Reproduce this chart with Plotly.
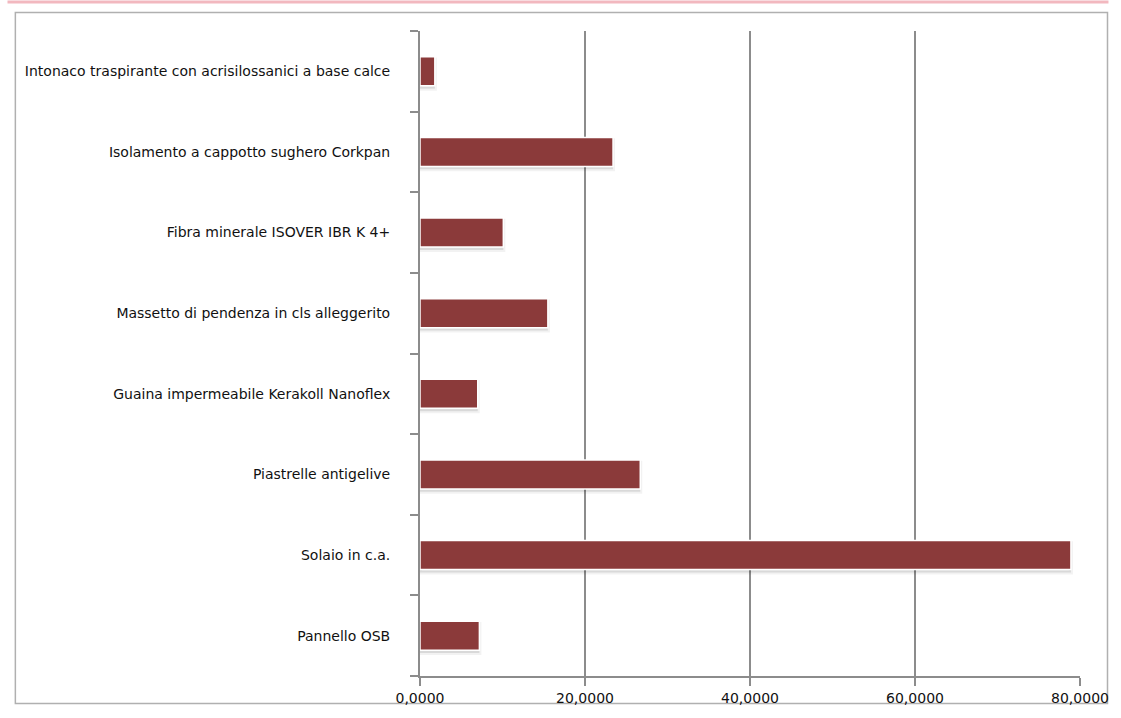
import plotly.graph_objects as go

categories = [
    "Pannello OSB",
    "Solaio in c.a.",
    "Piastrelle antigelive",
    "Guaina impermeabile Kerakoll Nanoflex",
    "Massetto di pendenza in cls alleggerito",
    "Fibra minerale ISOVER IBR K 4+",
    "Isolamento a cappotto sughero Corkpan",
    "Intonaco traspirante con acrisilossanici a base calce",
]
values = [7.2, 78.9, 26.7, 7.0, 15.5, 10.1, 23.4, 1.8]
x_ticks = [0, 20, 40, 60, 80]

W, H = 1121, 718
L, R, T, B = 420, 29, 31, 29
pw, ph = W - L - R, H - T - B

def px_x(p):
    return (p - L) / pw

def px_y(p):
    return 1 - (p - T) / ph

BW = 0.36
fig = go.Figure()
# soft drop shadow
fig.add_trace(go.Bar(
    y=categories, x=values, orientation="h",
    width=BW, offset=-BW / 2 - 0.035,
    marker=dict(color="rgba(0,0,0,0.10)", line=dict(color="rgba(0,0,0,0.05)", width=4)),
    showlegend=False, hoverinfo="skip",
))
fig.add_trace(go.Bar(
    y=categories, x=values, orientation="h",
    width=BW, offset=-BW / 2,
    marker=dict(color="#8b3a3a", line=dict(color="white", width=1.5)),
    showlegend=False,
))

grid = "#8c8c8c"
fig.update_layout(
    autosize=True,
    margin=dict(l=L, r=R, t=T, b=B),
    paper_bgcolor="white", plot_bgcolor="white",
    separators=",.",
    font=dict(family="DejaVu Sans", size=14, color="#111"),
    barmode="overlay",
    xaxis=dict(
        range=[0, 80], tickvals=x_ticks, tickformat=".4f",
        showgrid=True, gridcolor=grid, gridwidth=2,
        showline=True, linecolor=grid, linewidth=2,
        ticks="outside", ticklen=8, tickwidth=2, tickcolor=grid,
        zeroline=False, ticklabelstandoff=0,
    ),
    yaxis=dict(
        categoryorder="array", categoryarray=categories,
        showgrid=False, showline=True, linecolor=grid, linewidth=2,
        ticks="outside", ticklen=8, tickwidth=2, tickcolor=grid,
        tickson="boundaries", ticklabelstandoff=25,
    ),
    shapes=[
        dict(type="rect", xref="paper", yref="paper",
             x0=px_x(8), x1=px_x(1120), y0=px_y(717), y1=px_y(12),
             line=dict(color="#b0b0b0", width=1.5), layer="below"),
        dict(type="rect", xref="paper", yref="paper",
             x0=px_x(0), x1=px_x(1121), y0=px_y(3), y1=px_y(0),
             line=dict(width=0), fillcolor="#f2b8bf", layer="below"),
    ],
)

fig.write_html("out.html", config={"displayModeBar": False, "responsive": True},
               default_width="100%", default_height="100%")

with open("out.html", encoding="utf-8") as f:
    html = f.read()
html = html.replace(
    "<head>",
    "<head><style>html,body{margin:0;padding:0;overflow:hidden;width:100%;height:100%;}"
    "body>div{width:100%;height:100%;}</style>",
    1,
)
with open("out.html", "w", encoding="utf-8") as f:
    f.write(html)
